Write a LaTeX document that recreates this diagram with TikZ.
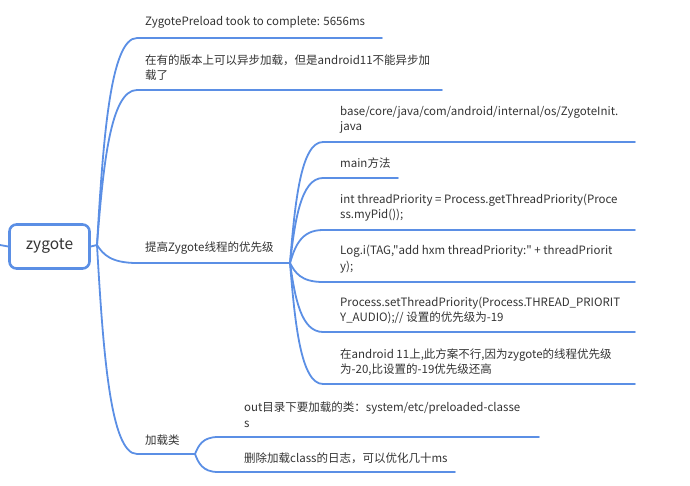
\documentclass[tikz,border=0pt]{standalone}
\usepackage{fontspec}
\setmainfont{Noto Sans CJK SC}[Ligatures=TeXOff]
\usetikzlibrary{calc}
\definecolor{lineblue}{RGB}{91,143,229}
\definecolor{txt}{RGB}{51,51,51}
\tikzset{
  conn/.style={draw=lineblue, line width=1.8pt, line cap=round, line join=round},
  br/.style={to path={let \p1=(\tikztostart), \p2=(\tikztotarget) in
     .. controls ({\x1+0.15*(\x2-\x1)},{0.5*(\y1+\y2)}) and ({\x1+0.33*(\x2-\x1)},\y2) .. (\tikztotarget)}},
  lbl/.style={anchor=west, inner sep=0pt, align=left, text=txt,
     font=\fontsize{11.5}{15.5}\selectfont},
  rootbox/.style={draw=lineblue, line width=2.6pt, rounded corners=7pt,
     minimum width=80pt, minimum height=44pt, inner sep=0pt, text=txt,
     font=\fontsize{15.5}{18}\selectfont}
}
\begin{document}
\begin{tikzpicture}[x=1pt,y=-1pt]
\useasboundingbox (0,0) rectangle (690,486);
% root
\node[rootbox] (root) at (49.5,246.5) {zygote};
\coordinate (lstub) at (0,245);
\coordinate (rhub) at (97,245);
% level 1 underline coordinates
\coordinate (b1s) at (137,38);  \coordinate (b1e) at (382,38);
\coordinate (b2s) at (137,90);  \coordinate (b2e) at (442,90);
\coordinate (b3s) at (137,263); \coordinate (h3) at (290,263);
\coordinate (b4s) at (137,454); \coordinate (h4) at (195,454);
% level 2 (hub 3)
\coordinate (c1s) at (323,142); \coordinate (c1e) at (635,142);
\coordinate (c2s) at (323,178); \coordinate (c2e) at (398,178);
\coordinate (c3s) at (323,230); \coordinate (c3e) at (635,230);
\coordinate (c4s) at (323,282); \coordinate (c4e) at (635,282);
\coordinate (c5s) at (323,332); \coordinate (c5e) at (635,332);
\coordinate (c6s) at (323,384); \coordinate (c6e) at (635,384);
% level 2 (hub 4)
\coordinate (d1s) at (218,437); \coordinate (d1e) at (539,437);
\coordinate (d2s) at (218,472); \coordinate (d2e) at (455,472);

% texts
\node[lbl] (t1) at (145,22.5) {ZygotePreload took to complete: 5656ms};
\node[lbl] (t2) at (145,67.5) {在有的版本上可以异步加载，但是android11不能异步加\\载了};
\node[lbl] (t3) at (145,248.5) {提高Zygote线程的优先级};
\node[lbl] (t4) at (145,440) {加载类};
\node[lbl] (u1) at (340,120) {base/core/java/com/android/internal/os/ZygoteInit.\\java};
\node[lbl] (u2) at (340,163) {main方法};
\node[lbl] (u3) at (340,207.5) {int threadPriority = Process.getThreadPriority(Proce\\ss.myPid());};
\node[lbl] (u4) at (340,259) {Log.i(TAG,"add hxm threadPriority:" + threadPriorit\\y);};
\node[lbl] (u5) at (340,310.5) {Process.setThreadPriority(Process.THREAD\_PRIORIT\\Y\_AUDIO);// 设置的优先级为-19};
\node[lbl] (u6) at (340,362) {在android 11上,此方案不行,因为zygote的线程优先级\\为-20,比设置的-19优先级还高};
\node[lbl] (v1) at (244,414.5) {out目录下要加载的类：system/etc/preloaded-classe\\s};
\node[lbl] (v2) at (244,458) {删除加载class的日志，可以优化几十ms};

% connectors
\draw[conn] (lstub) -- (root.west);
\draw[conn] (root.east) -- (rhub);
\draw[conn] (rhub) to[br] (b1s) -- (b1e);
\draw[conn] (rhub) to[br] (b2s) -- (b2e);
\draw[conn] (rhub) to[br] (b3s) -- (h3);
\draw[conn] (rhub) to[br] (b4s) -- (h4);
\draw[conn] (h3) to[br] (c1s) -- (c1e);
\draw[conn] (h3) to[br] (c2s) -- (c2e);
\draw[conn] (h3) to[br] (c3s) -- (c3e);
\draw[conn] (h3) to[br] (c4s) -- (c4e);
\draw[conn] (h3) to[br] (c5s) -- (c5e);
\draw[conn] (h3) to[br] (c6s) -- (c6e);
\draw[conn] (h4) to[br] (d1s) -- (d1e);
\draw[conn] (h4) to[br] (d2s) -- (d2e);
\end{tikzpicture}
\end{document}
